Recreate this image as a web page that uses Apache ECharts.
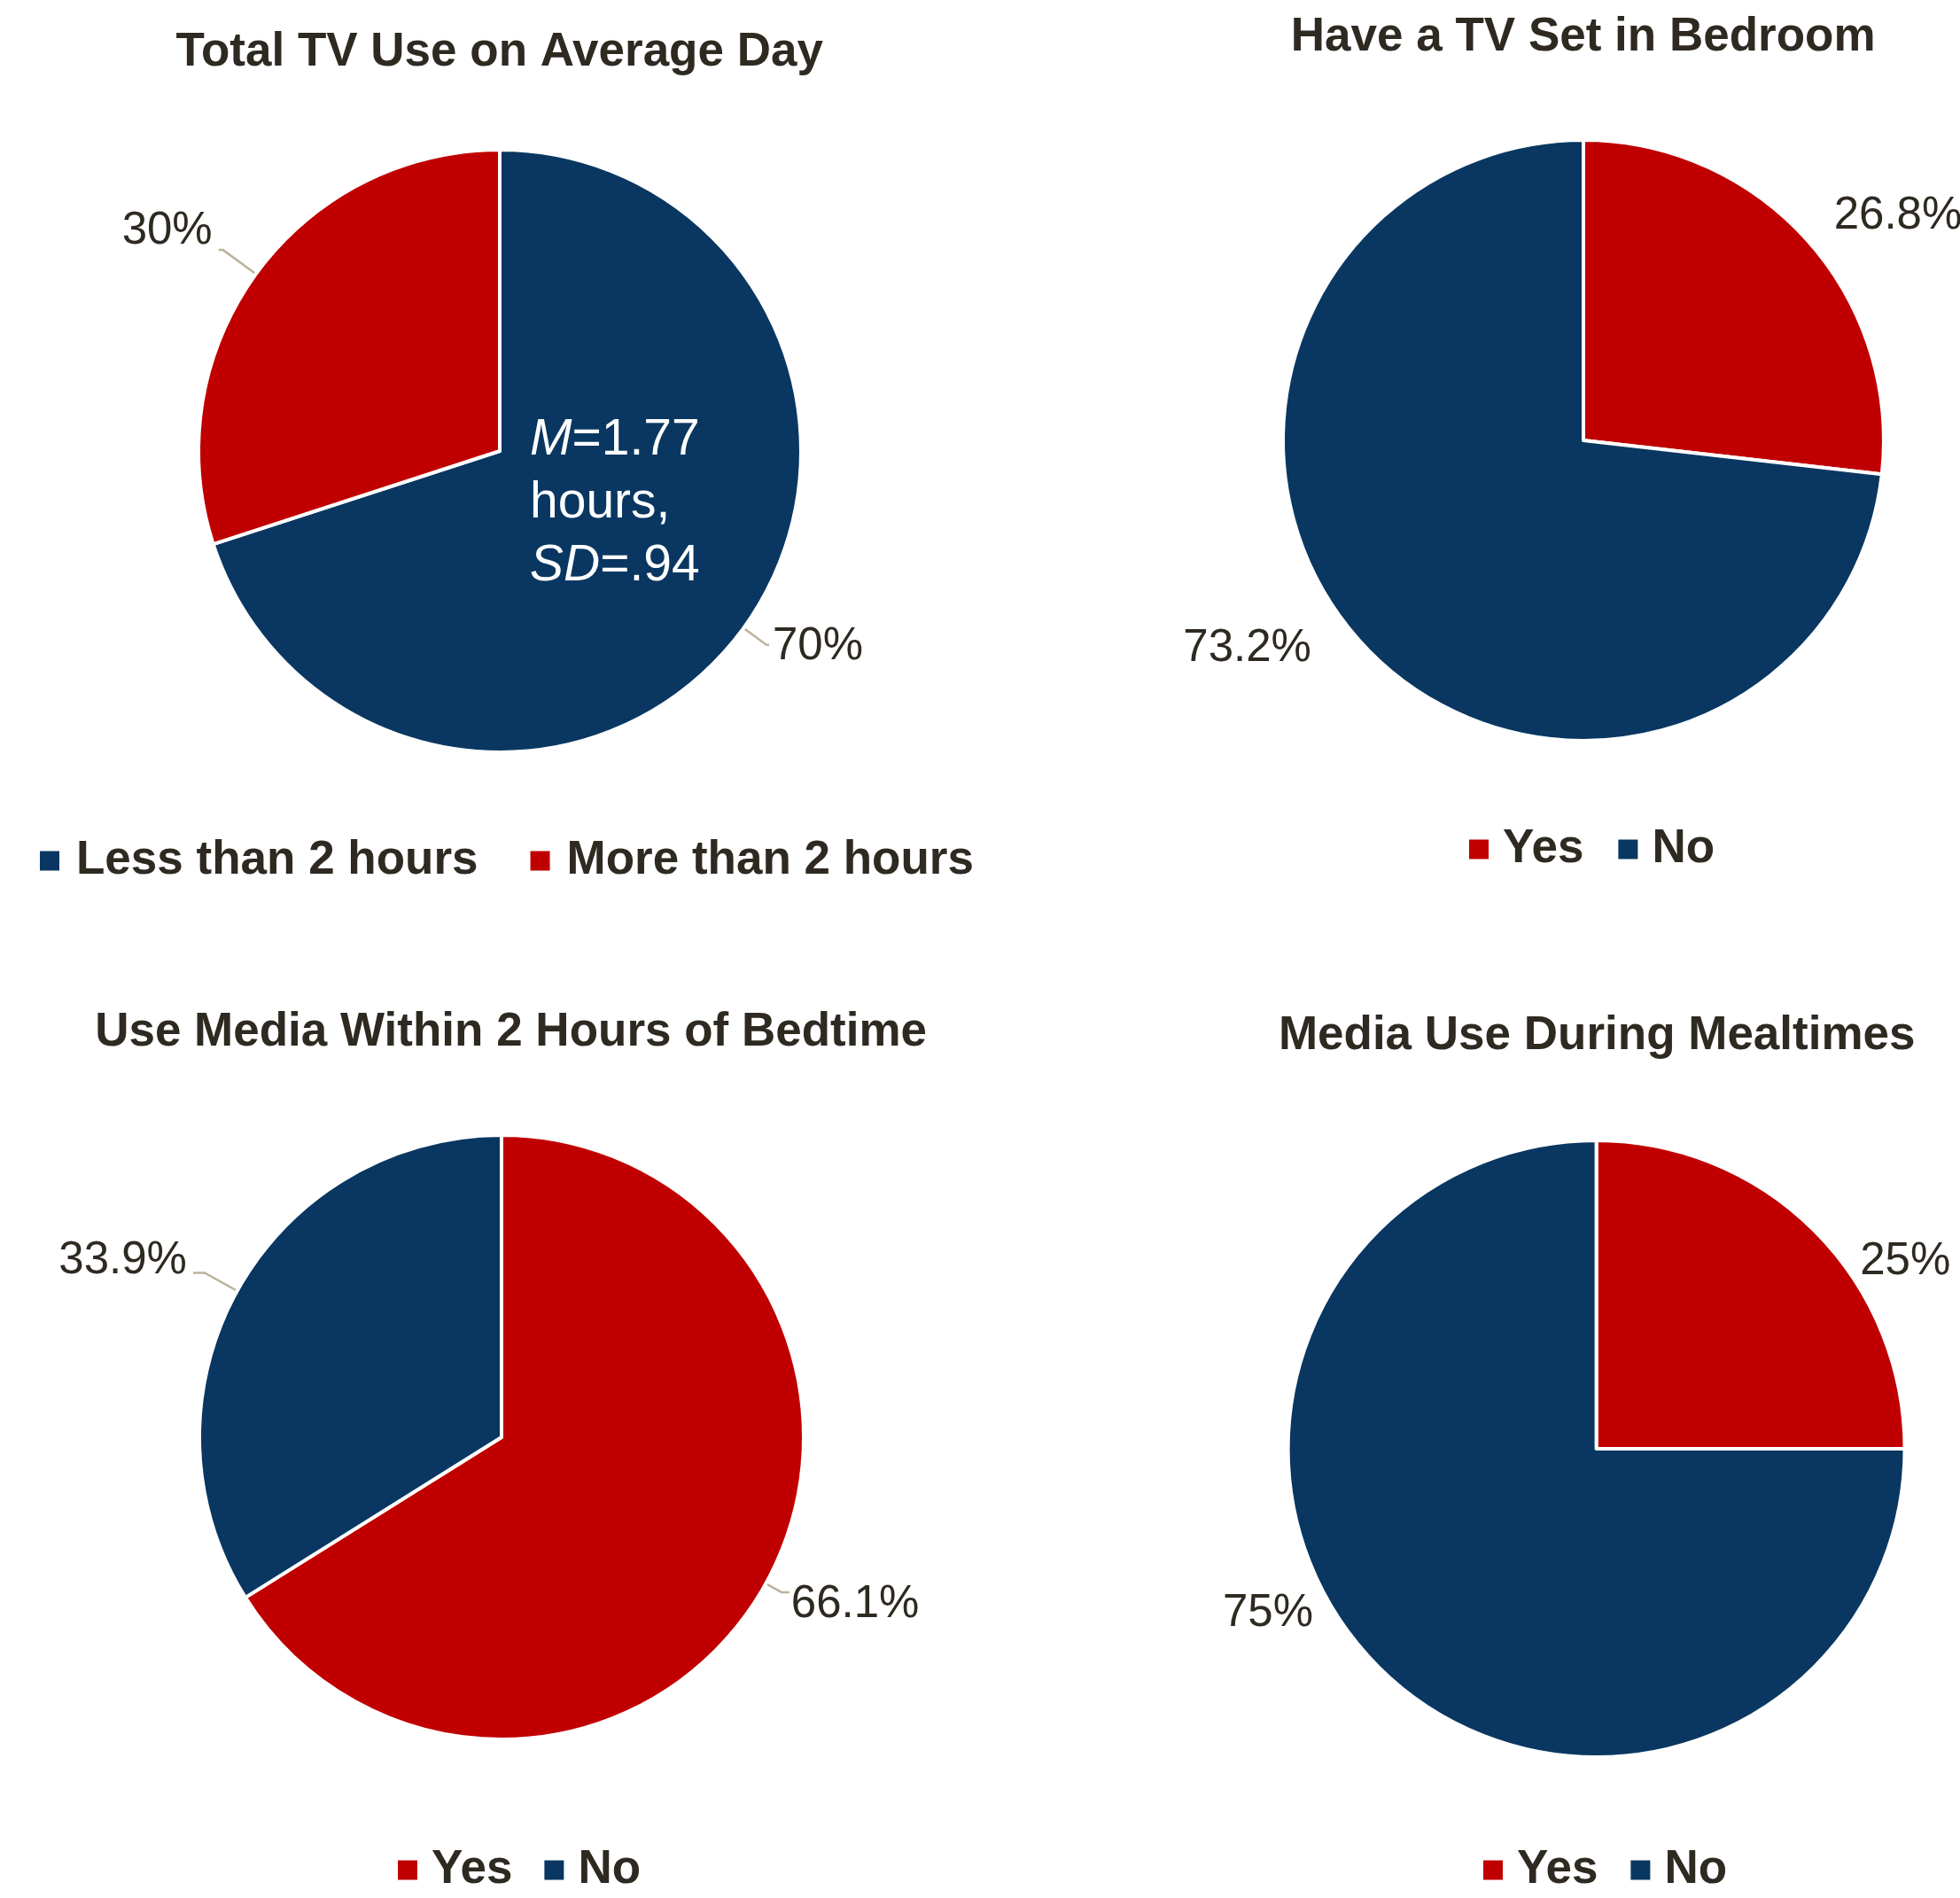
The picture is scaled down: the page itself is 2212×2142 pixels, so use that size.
<!DOCTYPE html>
<html>
<head>
<meta charset="utf-8">
<script src="https://cdn.jsdelivr.net/npm/echarts@6/dist/echarts.min.js"></script>
<style>
html,body{margin:0;padding:0;background:#ffffff;}
#c{width:2212px;height:2142px;}
</style>
</head>
<body>
<div id="c"></div>
<script>
// ---------- data ----------
const chartTitles = [
  'Total TV Use on Average Day',
  'Have a TV Set in Bedroom',
  'Use Media Within 2 Hours of Bedtime',
  'Media Use During Mealtimes'
];
const tvUseCategories = ['Less than 2 hours', 'More than 2 hours'];
const tvUseValues = [70, 30];
const yesNoCategories = ['Yes', 'No'];
const bedroomTvValues = [26.8, 73.2];
const bedtimeMediaValues = [66.1, 33.9];
const mealtimeMediaValues = [25, 75];
const annotationText = '{i|M}=1.77\nhours,\n{i|SD}=.94';

// ---------- styling / layout ----------
const BLUE = '#093761';
const RED = '#c00000';
const TEXT = '#2e2a21';
const LINE = '#bcb39e';
const FONT = "'Liberation Sans', Arial, Helvetica, sans-serif";

const pieLayout = [
  { center: [564, 509], r: 340 },
  { center: [1787, 497], r: 339 },
  { center: [566, 1622], r: 341 },
  { center: [1801.6, 1635], r: 348 }
];
const titleLayout = [
  { cx: 563.7, top: 28 },
  { cx: 1786.7, top: 10.5 },
  { cx: 576.6, top: 1134 },
  { cx: 1802.2, top: 1138 }
];
const legendLayout = [
  { left: 40, top: 940, gap: 59, pad: 14 },
  { left: 1653, top: 927, gap: 39, pad: 11 },
  { left: 444, top: 2079, gap: 36, pad: 11 },
  { left: 1669, top: 2079, gap: 37, pad: 11 }
];
// labelLine geometry and small vertical nudges of the label text
const labelTweaks = [
  [ { len: 32, len2: 3, dist: 4, dy: 2, line: true },
    { len: 46, len2: 5, dist: 7, dy: -21, line: true } ],
  [ { len: 40, len2: 0, dist: 0, dy: -1, line: false },
    { len: 7, len2: 49, dist: 0, dy: 4, line: false } ],
  [ { len: 20, len2: 9, dist: 2, dy: 14.5, line: true },
    { len: 42, len2: 13, dist: 7, dy: -13, line: true } ],
  [ { len: 0, len2: 51.5, dist: 0, dy: 35.5, line: false },
    { len: 0, len2: 73.5, dist: 0, dy: -60, line: false } ]
];

function makeSeries(k, names, values, colors) {
  return {
    type: 'pie',
    center: pieLayout[k].center,
    radius: pieLayout[k].r,
    startAngle: 90,
    clockwise: true,
    avoidLabelOverlap: false,
    animation: false,
    silent: true,
    z: 2,
    itemStyle: { borderColor: '#ffffff', borderWidth: 4 },
    label: {
      show: true, position: 'outside', formatter: '{c}%',
      color: TEXT, fontSize: 51, fontFamily: FONT, overflow: 'none'
    },
    labelLine: { show: true, lineStyle: { color: LINE, width: 2.5 } },
    labelLayout: function (p) {
      const tw = labelTweaks[k][p.dataIndex];
      const r = p.labelRect;
      const alignRight = p.align === 'right';
      return {
        x: alignRight ? r.x + r.width : r.x,
        y: r.y + r.height / 2 + tw.dy,
        align: alignRight ? 'right' : 'left',
        verticalAlign: 'middle',
        labelLinePoints: p.labelLinePoints
      };
    },
    emphasis: { disabled: true },
    data: names.map((n, i) => {
      const tw = labelTweaks[k][i];
      return {
        name: n,
        value: values[i],
        itemStyle: { color: colors[i] },
        label: { distanceToLabelLine: tw.dist },
        labelLine: { show: tw.line, length: tw.len, length2: tw.len2 }
      };
    })
  };
}

const series = [
  makeSeries(0, tvUseCategories, tvUseValues, [BLUE, RED]),
  makeSeries(1, yesNoCategories, bedroomTvValues, [RED, BLUE]),
  makeSeries(2, yesNoCategories, bedtimeMediaValues, [RED, BLUE]),
  makeSeries(3, yesNoCategories, mealtimeMediaValues, [RED, BLUE])
];

const legendData = [tvUseCategories, yesNoCategories, yesNoCategories, yesNoCategories];

const option = {
  backgroundColor: '#ffffff',
  animation: false,
  title: chartTitles.map((t, k) => ({
    text: t,
    left: titleLayout[k].cx - 5,
    top: titleLayout[k].top,
    textAlign: 'center',
    textStyle: { color: TEXT, fontSize: 53, fontWeight: 'bold', fontFamily: FONT }
  })),
  legend: legendLayout.map((l, k) => ({
    data: legendData[k],
    left: l.left,
    top: l.top,
    orient: 'horizontal',
    itemGap: l.gap,
    itemWidth: 22,
    itemHeight: 22,
    icon: 'rect',
    selectedMode: false,
    itemStyle: { borderWidth: 0 },
    textStyle: { color: TEXT, fontSize: 53, fontWeight: 'bold', fontFamily: FONT, padding: [0, 0, 0, l.pad] }
  })),
  graphic: {
    elements: [{
      type: 'text',
      x: 598,
      y: 568,
      z: 100,
      zlevel: 0,
      silent: true,
      style: {
        text: annotationText,
        fill: '#ffffff',
        fontSize: 57,
        fontFamily: FONT,
        lineHeight: 71,
        align: 'left',
        verticalAlign: 'middle',
        rich: {
          i: { fontStyle: 'italic', fontSize: 57, fontFamily: FONT, lineHeight: 71, fill: '#ffffff' }
        }
      }
    }]
  },
  series: series
};

const chart = echarts.init(document.getElementById('c'), null, { renderer: 'canvas' });
chart.setOption(option);
</script>
</body>
</html>
